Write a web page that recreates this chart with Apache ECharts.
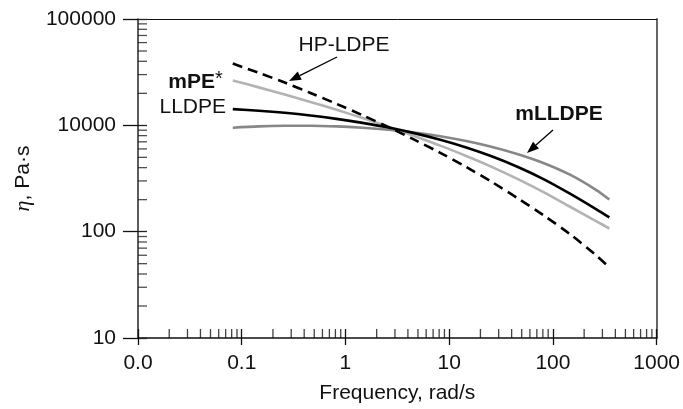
<!DOCTYPE html>
<html>
<head>
<meta charset="utf-8">
<script src="https://cdn.jsdelivr.net/npm/echarts@6/dist/echarts.min.js"></script>
<style>
html,body{margin:0;padding:0;background:#fff;}
#chart{width:683px;height:409px;}
</style>
</head>
<body>
<div id="chart"></div>
<script>
// ---- data ----
const frequency = [0.082, 0.146, 0.26, 0.46, 0.82, 1.46, 2.6, 4.6, 8.2, 14.6, 26, 46, 82, 146, 260, 350];
const hpLdpe  = [38080, 31160, 25240, 20160, 15920, 12450, 9627, 7335, 5513, 4059, 2921, 2057, 1417, 948, 601, 460];
const mPE     = [26450, 22750, 19480, 16590, 14000, 11710, 9702, 7949, 6442, 5153, 4050, 3118, 2340, 1715, 1259, 1071];
const lldpe   = [14200, 13720, 13110, 12370, 11500, 10550, 9533, 8450, 7316, 6193, 5093, 4060, 3108, 2279, 1633, 1364];
const mLldpe  = [9504, 9771, 9904, 9925, 9779, 9484, 9082, 8566, 7903, 7117, 6259, 5352, 4404, 3433, 2475, 2004];

const xTickValues = [0.01, 0.1, 1, 10, 100, 1000];
const xTickLabels = ['0.0', '0.1', '1', '10', '100', '1000'];
const yTickValues = [100, 1000, 10000, 100000];
const yTickLabels = ['10', '100', '10000', '100000'];
const minorMultipliers = [2, 3, 4, 5, 6, 7, 8, 9];
const xDecades = [0.01, 0.1, 1, 10, 100];
const yDecades = [100, 1000, 10000];

// ---- helpers ----
const FONT = '"Liberation Sans", Arial, Helvetica, sans-serif';
const FS = 21;
function labelFor(values, labels) {
  return function (v) {
    for (let i = 0; i < values.length; i++) {
      if (Math.abs(Math.log10(values[i]) - Math.log10(v)) < 1e-6) return labels[i];
    }
    return '';
  };
}
function pairs(xs, ys) { return xs.map((x, i) => [x, ys[i]]); }
const xMinor = [];
xDecades.forEach(d => minorMultipliers.forEach(m => xMinor.push([m * d, yTickValues[0]])));
const yMinor = [];
yDecades.forEach(d => minorMultipliers.forEach(m => yMinor.push([xTickValues[0], m * d])));

function arrow(tail, tip, headLen, halfW) {
  const dx = tip[0] - tail[0], dy = tip[1] - tail[1];
  const L = Math.sqrt(dx * dx + dy * dy);
  const ux = dx / L, uy = dy / L;
  const bx = tip[0] - headLen * ux, by = tip[1] - headLen * uy;
  const nx = uy, ny = -ux;
  return [
    { type: 'line', shape: { x1: tail[0], y1: tail[1], x2: bx, y2: by }, style: { stroke: '#000', lineWidth: 1.3 }, z: 20 },
    { type: 'polygon', shape: { points: [tip, [bx + halfW * nx, by + halfW * ny], [bx - halfW * nx, by - halfW * ny]] }, style: { fill: '#000' }, z: 20 }
  ];
}

const chart = echarts.init(document.getElementById('chart'), null, { renderer: 'canvas' });

const logX = { type: 'log', logBase: 10, min: 0.01, max: 1000, splitNumber: 5, gridIndex: 0 };
const logY = { type: 'log', logBase: 10, min: 100, max: 100000, splitNumber: 3, gridIndex: 0 };

const lineBase = { type: 'line', smooth: 0.3, showSymbol: false, symbol: 'none', silent: true, clip: false };

chart.setOption({
  animation: false,
  backgroundColor: '#fff',
  grid: { left: 138, right: 25, top: 19, bottom: 68, containLabel: false },
  xAxis: [
    Object.assign({}, logX, {
      position: 'bottom',
      axisLine: { show: true, lineStyle: { color: '#111', width: 1.5 } },
      axisTick: { show: true, inside: true, length: 9, lineStyle: { color: '#111', width: 1.3 } },
      axisLabel: { show: true, margin: 15, fontSize: FS, color: '#111', fontFamily: FONT, formatter: labelFor(xTickValues, xTickLabels) },
      splitLine: { show: false },
      minorTick: { show: false },
      name: 'Frequency, rad/s',
      nameLocation: 'middle',
      nameGap: 45,
      nameTextStyle: { fontSize: FS, color: '#111', fontFamily: FONT }
    }),
    Object.assign({}, logX, {
      position: 'bottom',
      axisLine: { show: false },
      axisTick: { show: true, inside: false, length: 7, lineStyle: { color: '#111', width: 1.3 } },
      axisLabel: { show: false },
      splitLine: { show: false }
    }),
    Object.assign({}, logX, {
      position: 'top',
      axisLine: { show: true, lineStyle: { color: '#111', width: 1 } },
      axisTick: { show: false },
      axisLabel: { show: false },
      splitLine: { show: false }
    })
  ],
  yAxis: [
    Object.assign({}, logY, {
      position: 'left',
      axisLine: { show: true, lineStyle: { color: '#333', width: 1.6 } },
      axisTick: { show: true, inside: true, length: 9, lineStyle: { color: '#222', width: 1.3 } },
      axisLabel: { show: true, margin: 22, fontSize: FS, color: '#111', fontFamily: FONT, formatter: labelFor(yTickValues, yTickLabels) },
      splitLine: { show: false },
      name: '{i|η}, Pa·s',
      nameLocation: 'middle',
      nameGap: 104,
      nameRotate: 90,
      nameTextStyle: {
        fontSize: FS, color: '#111', fontFamily: FONT,
        rich: { i: { fontSize: 22, fontStyle: 'italic', fontFamily: '"Liberation Serif", "DejaVu Serif", serif', color: '#111' } }
      }
    }),
    Object.assign({}, logY, {
      position: 'left',
      axisLine: { show: false },
      axisTick: { show: true, inside: false, length: 15, lineStyle: { color: '#111', width: 1.3 } },
      axisLabel: { show: false },
      splitLine: { show: false }
    }),
    Object.assign({}, logY, {
      position: 'right',
      axisLine: { show: true, lineStyle: { color: '#666', width: 2 } },
      axisTick: { show: false },
      axisLabel: { show: false },
      splitLine: { show: false }
    })
  ],
  series: [
    Object.assign({}, lineBase, { name: 'mLLDPE', data: pairs(frequency, mLldpe), lineStyle: { color: '#878787', width: 2.6 }, z: 3 }),
    Object.assign({}, lineBase, { name: 'mPE*', data: pairs(frequency, mPE), lineStyle: { color: '#b3b3b3', width: 2.6 }, z: 4 }),
    Object.assign({}, lineBase, { name: 'LLDPE', data: pairs(frequency, lldpe), lineStyle: { color: '#000', width: 2.6 }, z: 5 }),
    Object.assign({}, lineBase, { name: 'HP-LDPE', data: pairs(frequency, hpLdpe), lineStyle: { color: '#000', width: 2.6, type: [10, 6] }, z: 6 }),
    {
      type: 'scatter', silent: true, clip: false, data: xMinor,
      symbol: 'rect', symbolSize: [1.3, 9], symbolOffset: [0, -4.5],
      itemStyle: { color: '#111' }, z: 10
    },
    {
      type: 'scatter', silent: true, clip: false, data: yMinor,
      symbol: 'rect', symbolSize: [9, 1.3], symbolOffset: [4.5, 0],
      itemStyle: { color: '#222' }, z: 10
    }
  ],
  graphic: [
    { type: 'text', x: 344, y: 45, style: { text: 'HP-LDPE', font: FS + 'px ' + FONT, fill: '#111', textAlign: 'center', textVerticalAlign: 'middle' }, z: 20 },
    { type: 'text', x: 215, y: 82, style: { text: 'mPE', font: 'bold ' + FS + 'px ' + FONT, fill: '#111', textAlign: 'right', textVerticalAlign: 'middle' }, z: 20 },
    { type: 'text', x: 215, y: 79, style: { text: '*', font: '20px ' + FONT, fill: '#111', textAlign: 'left', textVerticalAlign: 'middle' }, z: 20 },
    { type: 'text', x: 226, y: 107, style: { text: 'LLDPE', font: FS + 'px ' + FONT, fill: '#111', textAlign: 'right', textVerticalAlign: 'middle' }, z: 20 },
    { type: 'text', x: 559, y: 114, style: { text: 'mLLDPE', font: 'bold ' + FS + 'px ' + FONT, fill: '#111', textAlign: 'center', textVerticalAlign: 'middle' }, z: 20 }
  ].concat(arrow([337, 57], [289, 81], 12, 4.5)).concat(arrow([553, 130], [527, 153], 12, 4.5))
});
</script>
</body>
</html>
